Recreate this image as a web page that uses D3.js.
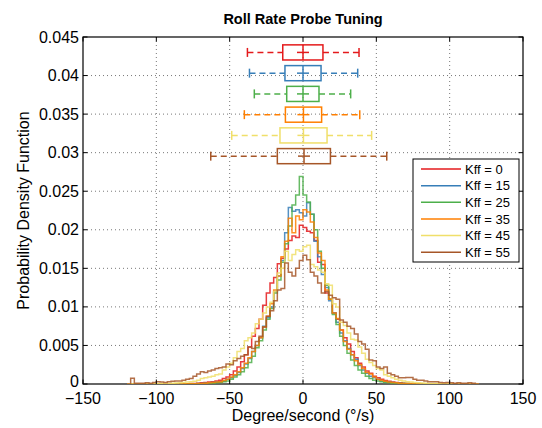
<!DOCTYPE html>
<html lang="en">
  <head>
    <meta charset="utf-8">
    <title>Roll Rate Probe Tuning</title>
    <style>
      body { margin: 0; background: #fff; }
      svg { display: block; font-family: "Liberation Sans", Arial, Helvetica, sans-serif; }
      .grid line { stroke: #555; stroke-width: 0.8; stroke-dasharray: 1 3; }
      .tick-label { font-size: 16px; fill: #000; }
      .label { font-size: 16px; fill: #000; text-anchor: middle; }
      .title { font-size: 14.5px; font-weight: bold; text-anchor: middle; }
      .legend text { font-size: 13px; }
      .hist { fill: none; stroke-width: 1.5; stroke-opacity: 0.85; }
    </style>
  </head>
  <body>
    <svg id="chart" width="542" height="428"></svg>
    <script src="https://d3js.org/d3.v7.min.js"></script>
    <script>
      // histogram bins: 2.5 deg/s wide starting at -120, densities x 1e-4
      const binStart = -120;
      const binWidth = 2.5;
      const seriesNames = ["Kff = 0", "Kff = 15", "Kff = 25", "Kff = 35", "Kff = 45", "Kff = 55"];
      const colors = ["#e41a1c", "#377eb8", "#4daf4a", "#ff7f00", "#f0df6a", "#a65628"];

      const kff0 = [
        0, 0, 0, 0, 0, 0, 0, 0, 0, 0, 0, 0,
        0, 0, 0.2, 0.3, 0.4, 0.6, 0.8, 1, 1.5, 2, 2.5, 3,
        4, 5, 7, 9, 12, 17, 22, 29, 38, 48, 62, 72,
        84, 102, 118, 131, 138, 156, 163, 175, 186, 192, 190, 206,
        203, 198, 196, 186, 158, 155, 118, 110, 92, 84, 70, 60,
        52, 42, 34, 27, 22, 17, 14, 10, 8, 6, 4.5, 3.5,
        2.5, 2, 1.5, 1, 0.8, 0.6, 0.4, 0.3, 0.2, 0, 0, 0,
        0, 0, 0, 0, 0, 0, 0, 0, 0, 0, 0, 0];
      const kff15 = [
        0, 0, 0, 0, 0, 0, 0, 0, 0, 0, 0, 0,
        0, 0, 0, 0.2, 0.3, 0.3, 0.4, 0.6, 0.8, 1, 1.5, 2,
        2.5, 3, 4, 6, 8, 11, 15, 20, 26, 33, 42, 50,
        60, 75, 86, 100, 120, 140, 160, 196, 229, 224, 226, 222,
        218, 235, 220, 185, 165, 142, 125, 108, 92, 80, 66, 56,
        46, 38, 32, 24, 18, 14, 10, 8, 6, 4, 3, 2.5,
        2, 1.5, 1, 0.8, 0.6, 0.4, 0.3, 0.2, 0, 0, 0, 0,
        0, 0, 0, 0, 0, 0, 0, 0, 0, 0, 0, 0];
      const kff25 = [
        0, 0, 0, 0, 0, 0, 0, 0, 0, 0, 0, 0,
        0, 0, 0, 0, 0, 0.2, 0.2, 0.3, 0.4, 0.5, 0.7, 1,
        1.5, 2, 3, 4, 6, 9, 12, 16, 21, 28, 36, 47,
        56, 70, 84, 98, 118, 135, 158, 182, 205, 232, 245, 269,
        245, 236, 220, 200, 172, 150, 128, 110, 90, 77, 62, 50,
        40, 31, 24, 18, 14, 10, 7, 5, 4, 3, 2, 1.5,
        1, 1, 0.5, 0.5, 0.3, 0.2, 0, 0, 0, 0, 0, 0,
        0, 0, 0, 0, 0, 0, 0, 0, 0, 0, 0, 0];
      const kff35 = [
        0, 0, 0, 0, 0, 0, 0, 0, 0, 0, 0, 0,
        0, 0, 0, 0.2, 0.3, 0.4, 0.4, 0.6, 0.8, 1, 1.5, 2,
        2.5, 3, 4.5, 6, 9, 12, 16, 21, 27, 34, 42, 50,
        60, 74, 88, 104, 122, 140, 165, 185, 215, 196, 218, 213,
        226, 223, 210, 190, 170, 160, 122, 110, 92, 85, 70, 55,
        45, 38, 30, 25, 20, 15, 13, 9, 6, 5, 3.5, 2.5,
        2, 1.5, 1, 0.8, 0.6, 0.4, 0.3, 0.2, 0, 0, 0, 0,
        0, 0, 0, 0, 0, 0, 0, 0, 0, 0, 0, 0];
      const kff45 = [
        0, 0, 0, 0, 0, 0, 0.2, 0.3, 0.4, 0.5, 0.6, 0.8,
        1, 1.2, 1.5, 2, 2.5, 3, 3.5, 5, 7, 8, 9, 10,
        12, 13, 18, 22, 27, 34, 42, 46, 56, 60, 66, 78,
        84, 92, 100, 106, 120, 144, 150, 172, 160, 168, 174, 172,
        178, 180, 155, 152, 148, 145, 130, 128, 104, 100, 80, 76,
        66, 58, 57, 48, 40, 32, 28, 24, 20, 18, 12, 10,
        8, 6, 5, 4, 3, 2.5, 2, 1.5, 1.2, 1, 0.8, 0.6,
        0.5, 0.4, 0.3, 0.2, 0, 0, 0, 0, 0, 0, 0, 0];
      const kff55 = [
        0, 7.5, 1, 1, 1, 1.5, 1, 2, 3, 2.5, 2, 3,
        3.5, 4, 4, 5, 6, 7, 10, 13, 16, 15, 17, 18,
        20, 21, 22, 26, 25, 30, 33, 36, 38, 48, 46, 55,
        62, 74, 88, 95, 108, 122, 124, 157, 145, 140, 150, 160,
        167, 161, 145, 140, 131, 118, 120, 115, 112, 110, 83, 80,
        75, 72, 65, 55, 52, 45, 31, 30, 22, 20, 22, 14,
        12, 10, 8, 8, 8.5, 8.5, 6, 5, 5, 4, 3, 3,
        3, 2, 1.5, 2, 1.5, 1, 1.5, 1, 1, 1.5, 1, 0];
      const histData = [kff0, kff15, kff25, kff35, kff45, kff55];

      // box plot summaries (deg/s): lower whisker, q1, median, q3, upper whisker
      const whiskerLo = [-37.9, -36.5, -33.2, -40.0, -48.6, -62.9];
      const quart1 = [-13.8, -12.3, -11.1, -12.0, -15.7, -17.5];
      const medians = [0, 0, 0, 0.3, 0.3, 0.7];
      const quart3 = [13.6, 12.3, 10.9, 12.7, 16.4, 18.7];
      const whiskerHi = [38.2, 37.3, 32.5, 38.7, 46.8, 57.1];

      const xTicks = [-150, -100, -50, 0, 50, 100, 150];
      const yTicks = [0, 0.005, 0.01, 0.015, 0.02, 0.025, 0.03, 0.035, 0.04, 0.045];

      var svg = d3.select("#chart");
      const L = 83, R = 523, T = 37, B = 384;

      var x = d3.scaleLinear().domain([-150, 150]).range([L, R]);
      var y = d3.scaleLinear().domain([0, 0.045]).range([B, T]);

      // grid
      var grid = svg.append("g").attr("class", "grid");
      grid.selectAll(".gx").data(xTicks.slice(1, -1)).enter().append("line")
        .attr("x1", d => x(d)).attr("x2", d => x(d)).attr("y1", T).attr("y2", B);
      grid.selectAll(".gy").data(yTicks.slice(1, -1)).enter().append("line")
        .attr("x1", L).attr("x2", R).attr("y1", d => y(d)).attr("y2", d => y(d));

      svg.append("clipPath").attr("id", "plot")
        .append("rect").attr("x", L).attr("y", T).attr("width", R - L).attr("height", B - T);

      // axis frame
      svg.append("rect")
        .attr("x", L).attr("y", T).attr("width", R - L).attr("height", B - T)
        .attr("fill", "none").attr("stroke", "#000").attr("stroke-width", 1.2);

      // stairs histograms
      var stairs = d3.line().x(d => x(d[0])).y(d => y(d[1] * 1e-4)).curve(d3.curveStepAfter);
      var plot = svg.append("g").attr("clip-path", "url(#plot)");
      histData.forEach(function (vals, k) {
        var pts = vals.map((v, i) => [binStart + i * binWidth, v]);
        pts.push([binStart + vals.length * binWidth, vals[vals.length - 1]]);
        plot.append("path")
          .attr("class", "hist")
          .attr("stroke", colors[k])
          .attr("d", stairs(pts));
      });

      // box plots stacked at the top
      const boxTop = 0.0430, boxStep = 0.00269, boxHalf = 0.00098;
      seriesNames.forEach(function (name, k) {
        var cy = y(boxTop - k * boxStep);
        var h = y(0) - y(boxHalf);
        var g = svg.append("g").attr("stroke", colors[k]).attr("fill", "none").attr("stroke-width", 1.5);
        g.append("line").attr("x1", x(whiskerLo[k])).attr("x2", x(quart1[k]))
          .attr("y1", cy).attr("y2", cy).attr("stroke-dasharray", "6 4");
        g.append("line").attr("x1", x(quart3[k])).attr("x2", x(whiskerHi[k]))
          .attr("y1", cy).attr("y2", cy).attr("stroke-dasharray", "6 4");
        [whiskerLo[k], whiskerHi[k]].forEach(function (w) {
          g.append("line").attr("x1", x(w)).attr("x2", x(w))
            .attr("y1", cy - 4.5).attr("y2", cy + 4.5);
        });
        g.append("rect").attr("x", x(quart1[k])).attr("y", cy - h)
          .attr("width", x(quart3[k]) - x(quart1[k])).attr("height", 2 * h);
        g.append("line").attr("x1", x(medians[k])).attr("x2", x(medians[k]))
          .attr("y1", cy - h).attr("y2", cy + h);
        g.append("line").attr("x1", x(medians[k]) - 6).attr("x2", x(medians[k]) + 6)
          .attr("y1", cy).attr("y2", cy);
      });

      // ticks on all four sides, pointing inward
      var ticks = svg.append("g").attr("stroke", "#000").attr("stroke-width", 1);
      xTicks.forEach(function (t) {
        ticks.append("line").attr("x1", x(t)).attr("x2", x(t)).attr("y1", B).attr("y2", B - 4.5);
        ticks.append("line").attr("x1", x(t)).attr("x2", x(t)).attr("y1", T).attr("y2", T + 4.5);
      });
      yTicks.forEach(function (t) {
        ticks.append("line").attr("x1", L).attr("x2", L + 4.5).attr("y1", y(t)).attr("y2", y(t));
        ticks.append("line").attr("x1", R).attr("x2", R - 4.5).attr("y1", y(t)).attr("y2", y(t));
      });

      var fmtX = d => (d < 0 ? "\u2212" + Math.abs(d) : String(d));
      svg.selectAll(".xl").data(xTicks).enter().append("text")
        .attr("class", "tick-label")
        .attr("x", d => x(d)).attr("y", B + 20)
        .attr("text-anchor", "middle")
        .text(fmtX);
      svg.selectAll(".yl").data(yTicks).enter().append("text")
        .attr("class", "tick-label")
        .attr("x", L - 4).attr("y", d => y(d) - (d === 0 ? 3 : 0)).attr("dy", "0.35em")
        .attr("text-anchor", "end")
        .text(d => d3.format("~g")(d));

      svg.append("text").attr("class", "label")
        .attr("x", x(0)).attr("y", 421)
        .text("Degree/second (\u00b0/s)");
      svg.append("text").attr("class", "label")
        .attr("transform", "translate(28.5," + ((T + B) / 2) + ") rotate(-90)")
        .text("Probability Density Function");
      svg.append("text").attr("class", "title")
        .attr("x", x(0)).attr("y", 24)
        .text("Roll Rate Probe Tuning");

      // legend
      var lg = svg.append("g").attr("class", "legend");
      lg.append("rect").attr("x", 413).attr("y", 159).attr("width", 106).attr("height", 103)
        .attr("fill", "#fff").attr("stroke", "#000").attr("stroke-width", 1);
      seriesNames.forEach(function (name, k) {
        var ly = 169 + k * 16.65;
        lg.append("line").attr("x1", 421).attr("x2", 461).attr("y1", ly).attr("y2", ly)
          .attr("stroke", colors[k]).attr("stroke-width", 1.5);
        lg.append("text").attr("x", 465).attr("y", ly).attr("dy", "0.35em").text(name);
      });
    </script>
  </body>
</html>
